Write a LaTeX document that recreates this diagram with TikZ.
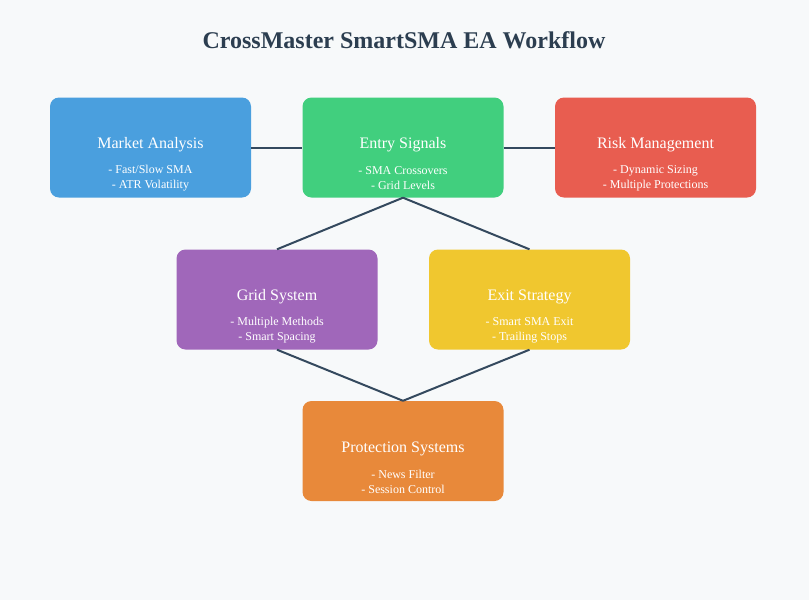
\documentclass[tikz,border=0pt]{standalone}
\usepackage{fontspec}
\setmainfont{Liberation Serif}
\definecolor{bg}{HTML}{F7F9FA}
\definecolor{ink}{HTML}{2C3E50}
\definecolor{edge}{HTML}{34495E}
\definecolor{cblue}{HTML}{4A9FDE}
\definecolor{cgreen}{HTML}{41CF7E}
\definecolor{cred}{HTML}{E85D50}
\definecolor{cpurple}{HTML}{A067BA}
\definecolor{cyellow}{HTML}{F0C72F}
\definecolor{corange}{HTML}{E8893A}
\begin{document}
\begin{tikzpicture}[x=1pt,y=-1pt,
  card/.style={rounded corners=9pt, minimum width=201pt, minimum height=100pt, inner sep=0pt, draw=none},
  conn/.style={draw=edge, line width=2pt},
  ttl/.style={font=\fontsize{16}{19}\selectfont, text=white},
  sub/.style={font=\fontsize{12}{15}\selectfont, text=white, align=center}]
\fill[bg] (0,0) rectangle (809,600);
\useasboundingbox (0,0) rectangle (809,600);
\node[font=\bfseries\fontsize{24}{28}\selectfont, text=ink] (title) at (404,40) {CrossMaster SmartSMA EA Workflow};

\node[card, fill=cblue] (ma) at (150.5,147.5) {};
\node[card, fill=cgreen] (es) at (403,147.5) {};
\node[card, fill=cred] (rm) at (655.5,147.5) {};
\node[card, fill=cpurple] (gs) at (277,299.5) {};
\node[card, fill=cyellow] (ex) at (529.5,299.5) {};
\node[card, fill=corange] (ps) at (403,451) {};

\draw[conn] (ma.east) -- (es.west);
\draw[conn] (es.east) -- (rm.west);
\draw[conn] (es.south) -- (gs.north);
\draw[conn] (es.south) -- (ex.north);
\draw[conn] (gs.south) -- (ps.north);
\draw[conn] (ex.south) -- (ps.north);

\foreach \n/\t/\a/\b in {ma/Market Analysis/- Fast\slash Slow SMA/- ATR Volatility,
  es/Entry Signals/- SMA Crossovers/- Grid Levels,
  rm/Risk Management/- Dynamic Sizing/- Multiple Protections,
  gs/Grid System/- Multiple Methods/- Smart Spacing,
  ex/Exit Strategy/- Smart SMA Exit/- Trailing Stops,
  ps/Protection Systems/- News Filter/- Session Control}{
  \node[ttl] (\n-t) at ([yshift=2.5pt]\n.center) {\t};
  \node[sub] (\n-s) at ([yshift=-30.5pt]\n.center) {\a\\[0pt]\b};
}
\end{tikzpicture}
\end{document}
